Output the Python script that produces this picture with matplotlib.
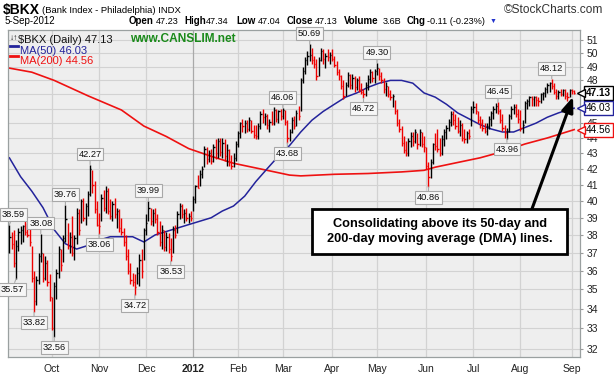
import matplotlib
matplotlib.use('Agg')
import matplotlib.pyplot as plt
import numpy as np
import pandas as pd
from matplotlib.ticker import NullLocator
from matplotlib.patches import Rectangle
from matplotlib.lines import Line2D
from matplotlib.transforms import blended_transform_factory

plt.rcParams['font.family'] = ['Liberation Sans', 'DejaVu Sans']

# ---------------- data ----------------
holidays = ['2011-11-24', '2011-12-26', '2012-01-02', '2012-01-16', '2012-02-20',
            '2012-04-06', '2012-05-28', '2012-07-04', '2012-09-03']

high = [
    # Sep 2011
    38.59, 38.2, 38.3, 37.7, 38.4, 38.5, 38.6, 39.0, 38.7, 38.4, 37.4, 36.0, 35.7, 37.0, 38.08, 37.0, 36.8, 36.6, 35.8,
    # Oct
    34.6, 35.4, 36.1, 37.4, 37.2, 38.0, 39.76, 38.7, 38.2, 39.1, 38.0, 39.6, 39.5, 40.1, 40.2, 39.9, 40.6, 42.27, 41.9, 41.2, 40.0,
    # Nov
    39.3, 40.4, 40.7, 40.9, 40.8, 40.1, 40.0, 40.2, 39.6, 39.5, 39.0, 38.4, 38.0, 37.2, 36.4, 35.9, 35.8, 36.2, 36.9, 37.2, 38.4,
    # Dec
    39.2, 39.99, 39.6, 39.5, 39.6, 39.2, 38.8, 38.6, 38.3, 38.2, 38.1, 37.8, 38.5, 38.6, 39.4, 39.9, 39.8, 39.5, 39.6, 39.3, 39.4,
    # Jan 2012
    40.3, 41.0, 41.6, 41.9, 42.2, 43.5, 43.4, 43.2, 43.3, 43.6, 43.9, 44.0, 44.0, 44.0, 43.9, 43.6, 43.3, 42.9, 43.0, 43.8,
    # Feb
    44.5, 45.1, 45.3, 45.2, 45.2, 45.4, 45.2, 44.9, 44.9, 45.0, 45.8, 46.0, 45.7, 45.6, 45.3, 45.8, 46.1, 46.0, 45.9, 46.0,
    # Mar
    46.06, 45.9, 45.2, 44.6, 45.4, 45.5, 45.9, 46.2, 48.2, 49.0, 49.7, 50.2, 50.69, 50.4, 49.8, 49.6, 49.7, 50.4, 50.3, 50.0, 50.3, 50.1,
    # Apr
    50.3, 49.8, 49.4, 48.8, 48.4, 48.0, 47.9, 48.6, 48.5, 48.5, 48.3, 48.2, 48.3, 47.8, 47.4, 47.9, 48.4, 48.8, 48.7, 48.8,
    # May
    49.30, 48.9, 48.6, 48.2, 47.9, 47.6, 47.3, 47.0, 46.6, 46.0, 45.3, 44.8, 44.1, 43.8, 44.0, 44.4, 44.4, 44.6, 44.3, 44.6, 44.4, 44.1,
    # Jun
    43.4, 42.4, 42.6, 43.7, 44.3, 44.6, 44.0, 44.2, 44.6, 44.9, 45.3, 45.8, 45.8, 45.6, 45.4, 45.2, 45.0, 44.6, 44.5, 44.6, 46.2,
    # Jul
    46.5, 46.4, 45.8, 45.5, 45.3, 45.0, 45.0, 45.5, 45.8, 46.2, 46.4, 46.45, 46.0, 45.6, 44.9, 44.7, 45.6, 46.2, 46.3, 46.3, 46.0,
    # Aug
    45.9, 45.2, 46.5, 46.7, 46.9, 46.9, 46.9, 46.9, 46.8, 47.1, 47.2, 47.5, 47.8, 47.9, 48.12, 47.8, 47.4, 47.3, 47.4, 47.4, 47.4, 47.2, 47.4,
    # Sep
    47.4, 47.34,
]
low = [
    37.0, 37.2, 36.2, 35.57, 37.1, 37.5, 37.6, 38.0, 37.9, 37.4, 35.4, 33.82, 34.2, 35.3, 36.5, 35.4, 35.5, 35.2, 34.4,
    32.9, 32.56, 34.5, 35.6, 36.0, 36.5, 37.6, 37.2, 37.0, 36.8, 36.6, 37.5, 38.0, 38.7, 38.8, 38.6, 39.1, 40.3, 40.5, 39.3, 38.5,
    38.06, 38.8, 39.4, 39.3, 39.2, 38.9, 38.8, 39.0, 38.4, 38.2, 38.0, 37.4, 36.6, 35.8, 35.3, 35.2, 34.72, 35.3, 35.2, 35.6, 36.6,
    38.0, 38.8, 38.6, 38.5, 38.7, 38.0, 37.4, 37.2, 37.1, 37.1, 37.0, 36.53, 37.0, 37.8, 38.1, 38.9, 39.0, 38.7, 38.8, 38.7, 38.8,
    39.4, 39.9, 40.8, 40.9, 41.4, 42.1, 42.3, 42.4, 42.3, 42.4, 42.6, 42.7, 42.8, 42.7, 42.5, 42.2, 42.2, 42.0, 42.1, 42.5,
    43.4, 44.0, 44.4, 44.3, 44.4, 44.5, 44.3, 44.0, 43.9, 43.9, 44.6, 45.0, 44.9, 44.6, 44.4, 44.9, 44.9, 45.1, 45.0, 45.2,
    45.3, 44.9, 43.68, 43.8, 44.3, 44.6, 44.8, 45.2, 45.8, 47.8, 48.5, 49.1, 49.4, 49.2, 48.9, 48.0, 48.3, 49.4, 49.2, 48.9, 49.4, 49.2,
    49.4, 49.0, 48.4, 48.0, 47.4, 46.7, 46.9, 47.5, 47.4, 47.4, 47.2, 47.3, 47.2, 47.0, 46.72, 46.9, 47.3, 47.8, 47.9, 47.8,
    48.4, 48.0, 47.8, 47.1, 46.9, 46.8, 46.6, 46.1, 45.6, 44.8, 44.4, 43.5, 43.0, 42.8, 42.8, 43.4, 43.5, 43.7, 43.3, 43.5, 43.4, 43.1,
    42.0, 40.86, 41.4, 42.3, 43.2, 43.1, 42.8, 42.9, 43.5, 43.9, 44.5, 44.8, 44.9, 44.6, 44.3, 44.1, 43.8, 43.7, 43.7, 43.9, 44.8,
    45.7, 45.6, 45.0, 44.7, 44.5, 44.3, 44.2, 44.6, 44.8, 45.3, 45.7, 45.6, 45.0, 44.5, 44.0, 43.96, 44.4, 45.3, 45.6, 45.4, 45.0,
    44.5, 44.3, 45.0, 46.0, 46.2, 46.2, 46.2, 46.2, 46.2, 46.4, 46.6, 46.8, 47.1, 47.2, 47.4, 47.0, 46.7, 46.7, 46.9, 46.9, 46.7, 46.5, 46.8,
    47.0, 47.04,
]
close = [
    37.9, 37.5, 36.4, 37.4, 38.2, 38.3, 38.5, 38.2, 38.0, 37.6, 35.6, 34.4, 35.5, 36.8, 37.0, 35.6, 36.4, 35.4, 34.6,
    33.0, 35.2, 35.9, 37.2, 36.3, 37.8, 38.9, 37.4, 37.9, 37.0, 37.8, 39.3, 38.3, 40.0, 39.0, 39.7, 40.4, 42.0, 41.0, 39.5, 38.6,
    38.5, 40.2, 39.6, 40.6, 39.4, 39.1, 39.8, 39.2, 39.4, 38.4, 38.2, 37.6, 36.8, 36.0, 35.5, 35.4, 35.1, 35.9, 36.6, 36.0, 38.3,
    38.7, 39.6, 38.8, 39.3, 38.9, 38.2, 37.6, 38.3, 37.3, 37.9, 37.2, 36.8, 38.3, 38.0, 39.2, 39.7, 39.2, 39.3, 39.0, 39.1, 39.0,
    40.1, 40.9, 40.8, 41.7, 42.0, 43.3, 42.6, 43.0, 42.5, 43.4, 43.0, 43.8, 43.1, 43.7, 42.8, 43.2, 42.4, 42.2, 42.7, 43.6,
    44.3, 45.0, 44.8, 45.0, 44.6, 45.2, 44.5, 44.2, 44.1, 44.8, 45.6, 45.4, 45.5, 44.9, 45.1, 45.0, 45.9, 45.3, 45.8, 45.5,
    45.9, 45.1, 44.0, 44.4, 45.2, 44.8, 45.7, 45.5, 48.0, 48.7, 49.5, 49.8, 49.9, 49.5, 49.2, 48.3, 49.5, 50.2, 49.6, 49.8, 49.7, 49.9,
    49.6, 49.1, 48.6, 48.3, 47.6, 46.9, 47.7, 48.4, 47.7, 48.2, 47.5, 48.0, 47.4, 47.2, 47.0, 47.7, 48.1, 48.6, 48.2, 48.7,
    48.9, 48.3, 48.0, 47.4, 47.6, 47.0, 46.8, 46.9, 45.8, 45.0, 44.6, 43.7, 43.2, 43.0, 43.8, 44.1, 43.8, 44.4, 43.6, 44.4, 43.6, 43.4,
    42.2, 41.5, 42.4, 43.6, 43.5, 43.3, 43.0, 43.9, 44.4, 44.7, 45.1, 45.6, 45.2, 44.8, 44.5, 44.9, 44.0, 43.9, 44.3, 44.1, 46.0,
    46.1, 45.8, 45.2, 45.0, 44.7, 44.5, 44.8, 45.3, 45.7, 46.0, 46.2, 45.8, 45.2, 44.7, 44.3, 44.5, 45.5, 46.0, 46.1, 45.6, 45.3,
    44.7, 44.9, 46.4, 46.5, 46.8, 46.7, 46.8, 46.6, 46.5, 47.0, 47.1, 47.4, 47.7, 47.8, 47.6, 47.2, 46.9, 47.2, 47.0, 47.3, 46.9, 46.8, 47.3,
    47.24, 47.13,
]

ma50_idx = list(range(0, 251, 5)) + [252]
ma50 = [42.7, 41.5, 40.6, 39.6, 38.3, 37.5, 37.2, 37.4, 37.7, 37.9,
        37.9, 37.9, 37.6, 38.0, 38.2, 38.4, 38.6, 38.8, 39.0, 39.4,
        39.7, 40.3, 41.2, 42.0, 42.8, 43.5, 44.4, 45.2, 45.8, 46.3,
        46.8, 47.1, 47.5, 47.8, 48.0, 48.0, 47.8, 47.1, 46.8, 46.3,
        45.7, 45.3, 44.9, 44.6, 44.4, 44.4, 44.7, 45.0, 45.4, 45.7,
        45.95, 46.03]
ma200_idx = [0, 10, 20, 35, 50, 60, 70, 80, 90, 100, 115, 125, 130, 145, 160, 175, 185, 190, 200, 210, 220, 230, 240, 252]
ma200 = [48.9, 48.6, 48.0, 46.9, 45.9, 44.8, 44.1, 43.3, 42.8, 42.35, 41.9, 41.6, 41.55, 41.65, 41.7, 41.8, 41.9, 42.1,
         42.4, 42.7, 43.1, 43.6, 44.0, 44.56]

high_tags = [(0, 38.59), (14, 38.08), (25, 39.76), (36, 42.27), (62, 39.99), (122, 46.06),
             (134, 50.69), (164, 49.30), (218, 46.45), (242, 48.12)]
low_tags = [(3, 35.57), (11, 33.82), (20, 32.56), (40, 38.06), (56, 34.72), (72, 36.53),
            (124, 43.68), (158, 46.72), (187, 40.86), (222, 43.96)]

month_labels = ['Oct', 'Nov', 'Dec', '2012', 'Feb', 'Mar', 'Apr', 'May', 'Jun', 'Jul', 'Aug', 'Sep']
y_ticks = list(range(32, 52))
hidden_ticks = [46, 47]   # covered by the value boxes in the original

# ---------------- figure ----------------
dates = pd.bdate_range('2011-09-06', '2012-09-05')
dates = dates[~dates.isin(pd.to_datetime(holidays))]
n = len(dates)
idx = np.arange(n)
high = np.array(high); low = np.array(low); close = np.array(close)

W, H = 614, 378
fig = plt.figure(figsize=(W / 100, H / 100), dpi=100)
fig.patch.set_facecolor('white')
ax = fig.add_axes([8 / W, 21 / H, 572 / W, 327 / H])
ax.set_facecolor('#eeeeee')

ax.set_yscale('log')
ax.set_ylim(31.6, 51.8)
ax.set_xlim(-0.62, 254.6)

# grid
for y in y_ticks:
    ax.axhline(y, color='#d2d2d2', lw=0.8, zorder=0)
month_pos = []
for k in range(1, n):
    if dates[k].month != dates[k - 1].month:
        month_pos.append(k)
for p, lab in zip(month_pos, month_labels):
    ax.axvline(p, color='#a9a9a9' if lab == '2012' else '#d2d2d2', lw=0.9, zorder=0)

# moving averages
ax.plot(ma200_idx, ma200, color='#ee1111', lw=1.2, zorder=2)
ax.plot(ma50_idx, ma50, color='#23239b', lw=1.1, zorder=2)

# price bars
prev = np.concatenate([[close[0] - 1], close[:-1]])
cols = np.where(close < prev, '#ee0000', '#000000')
ax.vlines(idx, low, high, colors=cols, lw=1.0, zorder=3)
ax.hlines(close, idx, idx + 0.55, colors=cols, lw=1.0, zorder=3)

# axes styling
ax.yaxis.tick_right()
ax.set_yticks(y_ticks)
ax.set_yticklabels(['' if v in hidden_ticks else str(v) for v in y_ticks])
ax.yaxis.set_minor_locator(NullLocator())
ax.tick_params(axis='y', length=2, color='#9a9a9a', pad=3, labelsize=7.5, labelcolor='#222222')
ax.set_xticks(month_pos)
ax.set_xticklabels(month_labels)
ax.tick_params(axis='x', length=0, pad=5, labelsize=7.5, labelcolor='#222222')
for t in ax.get_xticklabels():
    if t.get_text() == '2012':
        t.set_fontweight('bold')
for s in ax.spines.values():
    s.set_color('#9aa0a0')
    s.set_linewidth(0.9)

# value tags
def tag(i, v, up, dx=0):
    ax.annotate(f'{v:.2f}', xy=(i, v), xytext=(dx, 6 if up else -6), textcoords='offset pixels',
                ha='center', va='bottom' if up else 'top', fontsize=6.7,
                color='#111111', zorder=6, annotation_clip=False,
                bbox=dict(boxstyle='square,pad=0.2', fc='#f7f7f7', ec='#a8a8a8', lw=0.8),
                arrowprops=dict(arrowstyle='-', color='#a8a8a8', lw=0.8, shrinkA=0, shrinkB=0))

for i, v in high_tags:
    tag(i, v, True, dx=4 if i == 0 else 0)
for i, v in low_tags:
    tag(i, v, False, dx=-4 if i == 3 else 0)

# right side value boxes
tr = blended_transform_factory(ax.transAxes, ax.transData)
for val, ec, bold in [(close[-1], '#000000', True), (ma50[-1], '#23239b', False),
                      (ma200[-1], '#ee1111', False)]:
    ax.text((586 - 8) / 572, val, f'{val:.2f}', transform=tr, ha='left', va='center', fontsize=7.2,
            fontweight='bold' if bold else 'normal', color='#000000', zorder=7, clip_on=False,
            bbox=dict(boxstyle='square,pad=0.2', fc='white', ec=ec, lw=1.0))
    ax.plot([(581 - 8) / 572], [val], marker='<', ms=6, mfc='white', mec=ec, mew=1.0,
            transform=tr, clip_on=False, zorder=8)

# legend inside plot
ax.text(0.018, 0.984, '$BKX (Daily) 47.13', transform=ax.transAxes, fontsize=8, va='top', ha='left', color='#111111')
ax.text(0.003, 0.985, '\u2193\u2191', transform=ax.transAxes, fontsize=6, va='top', ha='left', color='#111111')
for yy, col in [(45.5, '#23239b'), (56, '#ee1111')]:
    fig.add_artist(Line2D([10 / W, 18 / W], [1 - yy / H, 1 - yy / H], color=col, lw=2.0))
ax.text(0.021, 0.952, 'MA(50) 46.03', transform=ax.transAxes, fontsize=8, va='top', ha='left', color='#23239b')
ax.text(0.021, 0.919, 'MA(200) 44.56', transform=ax.transAxes, fontsize=8, va='top', ha='left', color='#ee1111')
fig.text(130 / W, 1 - 39 / H, 'www.CANSLIM.net', fontsize=8.6, fontweight='bold',
         color='#1a8a1a', va='center', ha='left')

# headline
fig.text(3 / W, 1 - 10 / H, '$BKX', fontsize=10, fontweight='bold', va='center', ha='left')
fig.text(42 / W, 1 - 10.5 / H, '(Bank Index - Philadelphia) INDX', fontsize=6.8, va='center', ha='left')
fig.text(603 / W, 1 - 10 / H, '\u00a9StockCharts.com', fontsize=8.6, color='#333333', va='center', ha='right')
fig.text(5 / W, 1 - 21.5 / H, '5-Sep-2012', fontsize=7, va='center', ha='left')
row = [('Open', True, 129), ('47.23', False, 156), ('High', True, 184), ('47.34', False, 206),
       ('Low', True, 236), ('47.04', False, 258), ('Close', True, 287), ('47.13', False, 315),
       ('Volume', True, 344), ('3.6B', False, 383), ('Chg', True, 407), ('-0.11 (-0.23%)', False, 427)]
for txt, b, xp in row:
    fig.text(xp / W, 1 - 21.5 / H, txt, fontsize=7 if b else 6.6, fontweight='bold' if b else 'normal',
             va='center', ha='left')
fig.text(490 / W, 1 - 21.5 / H, '\u25bc', fontsize=5, color='#2233cc', va='center', ha='left')

# callout
def px2data(xp, yp):
    i = (xp - 9.4) / 2.241
    p = 51 * np.exp((40.5 - yp) / 662.0)
    return i, p

x0, y0 = px2data(532, 209)
x1, y1 = px2data(573, 97)
ax.annotate('', xy=(x1, y1), xytext=(x0, y0), zorder=9,
            arrowprops=dict(arrowstyle='-|>,head_length=0.9,head_width=0.35', color='black', lw=2.2,
                            shrinkA=0, shrinkB=0))
ax.add_patch(Rectangle(((312 - 8) / 572, (357 - 254) / 327), (567 - 312) / 572, (254 - 209) / 327,
                       transform=ax.transAxes, fc='white', ec='black', lw=2.0, zorder=10))
ax.text((440 - 8) / 572, (357 - 231.5) / 327,
        'Consolidating above its 50-day and\n200-day moving average (DMA) lines.',
        transform=ax.transAxes, ha='center', va='center', fontsize=9.2, fontweight='bold',
        linespacing=1.3, zorder=11)

fig.savefig('out.png', dpi=100)
